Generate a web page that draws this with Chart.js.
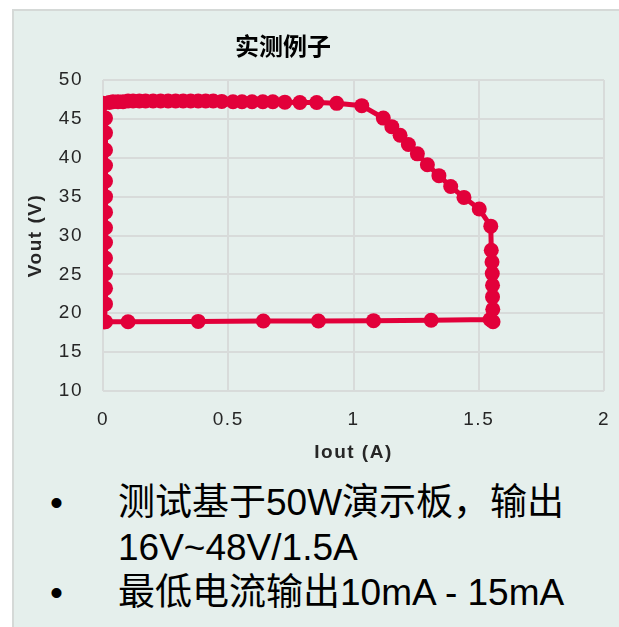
<!DOCTYPE html>
<html>
<head>
<meta charset="utf-8">
<script src="https://cdn.jsdelivr.net/npm/chart.js@4.4.1/dist/chart.umd.min.js"></script>
<style>
  body { margin: 0; background: #fff; width: 619px; height: 627px; overflow: hidden; position: relative; font-family: "Liberation Sans", "Noto Sans CJK SC", sans-serif; }
  #panel { position: absolute; left: 12px; top: 9px; right: 0; bottom: 0; background: #E5EFEC; border-left: 2px solid #D5D9D7; border-top: 2px solid #D5D9D7; }
  #wrap { position: absolute; left: 12px; top: 9px; width: 607px; height: 465px; }
  .bullets { position: absolute; left: 0; top: 480px; width: 619px; font-size: 37px; line-height: 45px; color: #000; }
  .bullets div { position: relative; padding-left: 118px; }
  .bullets div::before { content: "•"; position: absolute; left: 50px; }
</style>
</head>
<body>
<div id="panel"></div>
<div id="wrap"><canvas id="chart" width="607" height="465"></canvas></div>
<div class="bullets">
  <div>测试基于50W演示板，输出<br>16V~48V/1.5A</div>
  <div>最低电流输出10mA - 15mA</div>
</div>
<script>
// Chart text
const chartTitle = "实测例子";
const xTitle = "Iout (A)";
const yTitle = "Vout (V)";

// Measured loop, in drawing order: bottom edge, right edge, foldback, top edge, left edge
const ioutA = [
  0.01, 0.10, 0.38, 0.64, 0.86, 1.08, 1.31, 1.545, 1.557,
  1.556, 1.555, 1.555, 1.554, 1.553, 1.550, 1.548,
  1.502, 1.441, 1.388, 1.341, 1.295, 1.255, 1.219, 1.186, 1.153, 1.119, 1.033,
  0.933, 0.853, 0.786, 0.726, 0.678, 0.638, 0.595, 0.555, 0.519, 0.474,
  0.44, 0.41, 0.38, 0.35, 0.32, 0.29, 0.26, 0.23, 0.20, 0.17, 0.145, 0.12, 0.10,
  0.08, 0.06, 0.04, 0.025, 0.0,
  0.01, 0.01, 0.01, 0.01, 0.01, 0.01, 0.01, 0.01, 0.01, 0.01, 0.01, 0.01, 0.01, 0.005
];
const voutV = [
  18.9, 18.9, 18.95, 19.0, 19.0, 19.05, 19.1, 19.2, 18.9,
  20.5, 22.1, 23.6, 25.1, 26.6, 28.1, 31.2,
  33.4, 34.9, 36.3, 37.7, 39.1, 40.5, 41.7, 42.9, 44.0, 45.1, 46.7,
  47.0, 47.1, 47.1, 47.15, 47.2, 47.2, 47.2, 47.2, 47.2, 47.25,
  47.3, 47.3, 47.3, 47.3, 47.3, 47.3, 47.3, 47.3, 47.3, 47.3, 47.3, 47.3, 47.3,
  47.2, 47.2, 47.2, 47.1, 47.0,
  45.1, 43.2, 41.0, 39.0, 37.0, 35.0, 33.0, 31.0, 29.1, 27.1, 25.1, 23.2, 21.2, 18.9
];

// Axis ranges
const xMin = 0, xMax = 2, xStep = 0.5;
const yMin = 10, yMax = 50, yStep = 5;

const points = ioutA.map((x, i) => ({ x: x, y: voutV[i] }));

const red = "#E2003A";
const gridColor = "#D8DBDA";
const textColor = "#262626";
const tickFont = { family: "Liberation Sans", size: 19 };
const axisTitleFont = { family: "Liberation Sans", size: 19, weight: "bold" };

// wider tracking on the axis text, as in the original
const spacingPlugin = {
  id: "spacing",
  beforeLayout(chart) { chart.ctx.letterSpacing = "1.5px"; },
  beforeDraw(chart) { chart.ctx.letterSpacing = "1.5px"; }
};

// Title is drawn left of the plot centre, like the original
const titlePlugin = {
  id: "chartTitle",
  afterDraw(chart) {
    const ctx = chart.ctx;
    ctx.save();
    ctx.letterSpacing = "0px";
    ctx.font = "bold 24px 'Noto Sans CJK SC'";
    ctx.fillStyle = "#000";
    ctx.textAlign = "center";
    ctx.textBaseline = "middle";
    ctx.fillText(chartTitle, 271, 37);
    ctx.restore();
  }
};

new Chart(document.getElementById("chart"), {
  type: "scatter",
  data: {
    datasets: [{
      data: points,
      showLine: true,
      borderColor: red,
      backgroundColor: red,
      borderWidth: 5,
      pointRadius: 7.5,
      pointBorderWidth: 0,
      tension: 0
    }]
  },
  options: {
    responsive: false,
    animation: false,
    events: [],
    layout: { padding: { top: 71, right: 15, left: 0, bottom: 0 } },
    plugins: {
      legend: { display: false },
      tooltip: { enabled: false }
    },
    scales: {
      x: {
        type: "linear",
        min: xMin, max: xMax,
        grid: { color: gridColor, lineWidth: 2, drawTicks: false },
        border: { display: false },
        ticks: { stepSize: xStep, padding: 17, color: textColor, font: tickFont,
                 callback: (v) => String(v) },
        title: { display: true, text: xTitle, color: textColor, font: axisTitleFont, padding: { top: 0, bottom: 10 } },
        afterFit(scale) { scale.height = 83; scale.paddingLeft = 0; scale.paddingRight = 0; }
      },
      y: {
        type: "linear",
        min: yMin, max: yMax,
        grid: { color: gridColor, lineWidth: 2, drawTicks: false },
        border: { display: false },
        ticks: { stepSize: yStep, padding: 20, color: textColor, font: tickFont },
        title: { display: true, text: yTitle, color: textColor, font: axisTitleFont, padding: { top: 12, bottom: 0 } },
        afterFit(scale) { scale.width = 91; scale.paddingTop = 0; scale.paddingBottom = 0; }
      }
    }
  },
  plugins: [spacingPlugin, titlePlugin]
});
</script>
</body>
</html>
